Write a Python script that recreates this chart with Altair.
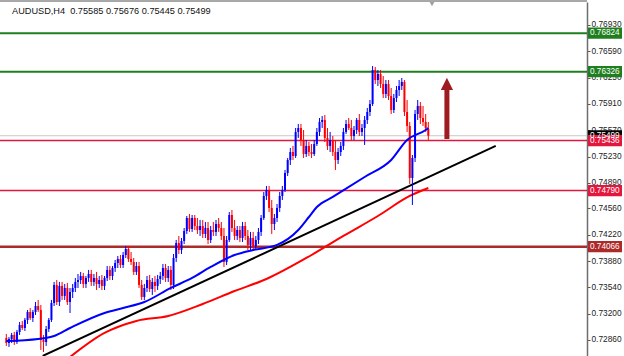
import altair as alt
import pandas as pd

# prices in 1e-5 units (pipettes)
opens = [72886, 72821, 72873, 72925, 72834, 72964, 73054, 73015, 73119, 73222,
         73144, 73222, 73299, 73248, 72860, 72834, 73002, 73119, 73338, 73571,
         73351, 73558, 73429, 73532, 73351, 73480, 73532, 73610, 73635, 73687,
         73584, 73661, 73713, 73610, 73661, 73584, 73635, 73558, 73661, 73765,
         73687, 73790, 73855, 73907, 73829, 73958, 74036, 73907, 73868, 73739,
         73816, 73571, 73416, 73532, 73635, 73519, 73610, 73558, 73648, 73687,
         73790, 73661, 73765, 73571, 73920, 74113, 74023, 74139, 74268, 74436,
         74294, 74436, 74333, 74281, 74333, 74230, 74307, 74152, 74281, 74256,
         74359, 74307, 74204, 73868, 74152, 74475, 74307, 74204, 74281, 74178,
         74333, 74204, 74088, 74178, 74075, 74152, 74256, 74436, 74721, 74798,
         74566, 74359, 74436, 74566, 74721, 74798, 75018, 75186, 75289, 75237,
         75548, 75599, 75444, 75263, 75367, 75289, 75263, 75392, 75548, 75677,
         75703, 75470, 75367, 75444, 75289, 75186, 75289, 75367, 75548, 75651,
         75599, 75496, 75573, 75703, 75548, 75599, 75703, 75806, 75909, 76349,
         76219, 76297, 76168, 76039, 76168, 76013, 75832, 75987, 76090, 76142,
         76194, 75806, 75625, 74953, 75212, 75780, 75884, 75728, 75677, 75585]
highs = [72938, 72899, 72951, 72964, 72989, 73093, 73106, 73144, 73248, 73274,
         73248, 73351, 73377, 73312, 72925, 73041, 73144, 73377, 73610, 73635,
         73610, 73610, 73584, 73597, 73532, 73584, 73661, 73713, 73739, 73726,
         73687, 73765, 73765, 73713, 73739, 73687, 73700, 73687, 73816, 73816,
         73816, 73894, 73945, 73958, 73997, 74075, 74075, 73997, 73920, 73868,
         73868, 73635, 73584, 73687, 73700, 73661, 73687, 73700, 73739, 73842,
         73842, 73816, 73816, 73971, 74152, 74204, 74178, 74307, 74462, 74488,
         74475, 74475, 74436, 74411, 74411, 74385, 74385, 74333, 74385, 74411,
         74436, 74385, 74307, 74204, 74514, 74540, 74411, 74333, 74333, 74385,
         74385, 74281, 74256, 74256, 74204, 74307, 74475, 74772, 74850, 74850,
         74669, 74488, 74617, 74772, 74850, 75057, 75212, 75341, 75367, 75599,
         75651, 75651, 75573, 75444, 75418, 75392, 75444, 75599, 75728, 75754,
         75767, 75599, 75548, 75496, 75444, 75341, 75418, 75599, 75703, 75728,
         75703, 75625, 75728, 75780, 75651, 75754, 75858, 75961, 76400, 76387,
         76349, 76349, 76271, 76219, 76219, 76116, 76039, 76142, 76219, 76245,
         76219, 75961, 75677, 75250, 75832, 75961, 75935, 75884, 75780, 75676]
lows = [72783, 72770, 72821, 72796, 72809, 72925, 72989, 72976, 73067, 73119,
        73093, 73183, 73222, 72731, 72705, 72783, 72964, 73093, 73299, 73312,
        73299, 73377, 73377, 73312, 73209, 73403, 73480, 73532, 73584, 73532,
        73532, 73610, 73558, 73558, 73506, 73532, 73506, 73506, 73622, 73635,
        73635, 73739, 73790, 73790, 73790, 73920, 73868, 73829, 73700, 73700,
        73532, 73377, 73377, 73480, 73480, 73442, 73480, 73506, 73584, 73635,
        73610, 73610, 73506, 73519, 73868, 73971, 73971, 74100, 74230, 74256,
        74256, 74281, 74230, 74204, 74178, 74178, 74100, 74113, 74204, 74204,
        74256, 74152, 73803, 73829, 74126, 74256, 74152, 74152, 74126, 74126,
        74152, 74023, 74023, 74023, 74023, 74100, 74204, 74411, 74669, 74514,
        74230, 74281, 74385, 74514, 74669, 74772, 74979, 75121, 75186, 75212,
        75470, 75367, 75212, 75225, 75237, 75212, 75237, 75367, 75496, 75599,
        75418, 75315, 75289, 75237, 75057, 75134, 75237, 75315, 75522, 75573,
        75444, 75444, 75522, 75496, 75496, 75380, 75651, 75754, 75884, 76168,
        76142, 76116, 75987, 75987, 75961, 75780, 75793, 75935, 76013, 76090,
        75754, 75548, 74876, 74604, 75160, 75703, 75651, 75625, 75548, 75445]
closes = [72821, 72873, 72925, 72834, 72964, 73054, 73015, 73119, 73222, 73144,
          73222, 73299, 73248, 72860, 72834, 73002, 73119, 73338, 73571, 73351,
          73558, 73429, 73532, 73351, 73480, 73532, 73610, 73635, 73687, 73584,
          73661, 73713, 73610, 73661, 73584, 73635, 73558, 73661, 73765, 73687,
          73790, 73855, 73907, 73829, 73958, 74036, 73907, 73868, 73739, 73816,
          73571, 73416, 73532, 73635, 73519, 73610, 73558, 73648, 73687, 73790,
          73661, 73765, 73571, 73920, 74113, 74023, 74139, 74268, 74436, 74294,
          74436, 74333, 74281, 74333, 74230, 74307, 74152, 74281, 74256, 74359,
          74307, 74204, 73868, 74152, 74475, 74307, 74204, 74281, 74178, 74333,
          74204, 74088, 74178, 74075, 74152, 74256, 74436, 74721, 74798, 74566,
          74359, 74436, 74566, 74721, 74798, 75018, 75186, 75289, 75237, 75548,
          75599, 75444, 75263, 75367, 75289, 75263, 75392, 75548, 75677, 75703,
          75470, 75367, 75444, 75289, 75186, 75289, 75367, 75548, 75651, 75599,
          75496, 75573, 75703, 75548, 75599, 75703, 75806, 75909, 76349, 76219,
          76297, 76168, 76039, 76168, 76013, 75832, 75987, 76090, 76142, 76194,
          75806, 75625, 74953, 75212, 75780, 75884, 75728, 75677, 75599, 75499]

blue_ma_bar = [0, 12, 18, 24, 37, 44, 52, 62, 70, 77, 86, 93, 102, 110, 114, 117, 123, 135, 145, 151, 158, 159]
blue_ma_val = [72847, 72873, 72912, 73015, 73209, 73274, 73351, 73532, 73661, 73803, 73958,
               74023, 74088, 74281, 74449, 74579, 74708, 74966, 75186, 75444, 75573, 75599]
red_ma_bar = [24, 37, 49, 61, 74, 86, 98, 115, 127, 140, 152, 159]
red_ma_val = [72640, 72951, 73106, 73170, 73325, 73493, 73648, 73958, 74204, 74462, 74721, 74824]
trend_bar = [13.7, 184.4]
trend_val = [72654, 75367]

level_prices = [76824, 76326, 75436, 74790, 74066]
level_colors = ["#1f7f1f", "#1f7f1f", "#e3173e", "#e3173e", "#ad2a2a"]
level_widths = [2, 2, 1.5, 1.5, 2.5]
bid_price = 75499

label_prices = [76824, 76326, 75499, 75436, 74790, 74066]
label_colors = ["#1f7f1f", "#1f7f1f", "#000000", "#e3173e", "#e3173e", "#ad2a2a"]

tick_values = [76930, 76590, 76250, 75910, 75570, 75230, 74890, 74560,
               74220, 73880, 73540, 73200, 72860]

arrow_bar = 166
arrow_from = 75457
arrow_to = 76116
arrow_head = 76168

title_text = "AUDUSD,H4\u00a0\u00a00.75585 0.75676 0.75445 0.75499"

S = 1e5
FONT = "Liberation Sans"

candles = pd.DataFrame({
    "i": list(range(len(closes))),
    "o": [v / S for v in opens],
    "h": [v / S for v in highs],
    "l": [v / S for v in lows],
    "c": [v / S for v in closes],
})
candles["dir"] = ["up" if c >= o else "down" for o, c in zip(opens, closes)]

xs = alt.Scale(domain=[-0.5, 216.9], nice=False, zero=False)
ys = alt.Scale(domain=[0.72653, 0.77227], nice=False, zero=False)
yax = alt.Axis(
    orient="right", values=[v / S for v in tick_values], format=".5f",
    labelFont=FONT, labelFontSize=8.3, labelColor="#222222", labelPadding=1,
    tickSize=3, tickColor="#555555", domainColor="#6e6e6e", domainWidth=1.5,
    grid=False, title=None, labelBound=False, labelOverlap=False)
dir_color = alt.Color("dir:N", scale=alt.Scale(domain=["up", "down"], range=["#0000ff", "#ff0000"]), legend=None)

levels = pd.DataFrame({"p": [v / S for v in level_prices], "col": level_colors, "w": level_widths})
bid = pd.DataFrame({"p": [bid_price / S]})
labels = pd.DataFrame({
    "p": [v / S for v in label_prices],
    "col": label_colors,
    "t": [f"{v / S:.5f}" for v in label_prices],
})
blue_ma = pd.DataFrame({"i": blue_ma_bar, "v": [v / S for v in blue_ma_val]})
red_ma = pd.DataFrame({"i": red_ma_bar, "v": [v / S for v in red_ma_val]})
trend = pd.DataFrame({"i": trend_bar, "v": [v / S for v in trend_val]})
arrow = pd.DataFrame({"i": [arrow_bar], "a": [arrow_from / S], "b": [arrow_to / S], "hd": [arrow_head / S]})


def Y(field):
    return alt.Y(field, scale=ys, axis=yax)


def X(field):
    return alt.X(field, scale=xs, axis=None)


axis_layer = alt.Chart(bid).mark_rule(color="#c8c8c8", strokeWidth=1).encode(y=Y("p:Q"))

level_layer = alt.Chart(levels).mark_rule().encode(
    y=Y("p:Q"),
    color=alt.Color("col:N", scale=None),
    strokeWidth=alt.StrokeWidth("w:Q", scale=None),
)

red_ma_layer = alt.Chart(red_ma).mark_line(color="#ff0000", strokeWidth=2, clip=True,
                                           interpolate="monotone").encode(x=X("i:Q"), y=Y("v:Q"))

trend_layer = alt.Chart(trend).mark_line(color="#000000", strokeWidth=2, clip=True).encode(
    x=X("i:Q"), y=Y("v:Q"))

wicks = alt.Chart(candles).mark_rule(strokeWidth=1, clip=True).encode(
    x=X("i:Q"), y=Y("l:Q"), y2="h:Q", color=dir_color)

bodies = alt.Chart(candles).mark_bar(size=2, clip=True).encode(
    x=X("i:Q"), y=Y("o:Q"), y2="c:Q", color=dir_color)

blue_ma_layer = alt.Chart(blue_ma).mark_line(color="#0000ff", strokeWidth=2, clip=True,
                                             interpolate="monotone").encode(x=X("i:Q"), y=Y("v:Q"))

arrow_shaft = alt.Chart(arrow).mark_rule(color="#9c1c22", strokeWidth=5).encode(
    x=X("i:Q"), y=Y("a:Q"), y2="b:Q")
arrow_tip = alt.Chart(arrow).mark_point(shape="M0,-1L1,1L-1,1Z", size=150, filled=True,
                                         opacity=1, color="#9c1c22").encode(
    x=X("i:Q"), y=Y("hd:Q"))

label_boxes = alt.Chart(labels).mark_point(shape="M-1,-0.33L1,-0.33L1,0.33L-1,0.33Z", size=1156,
                                           filled=True, opacity=1).encode(
    x=alt.value(605), y=Y("p:Q"), color=alt.Color("col:N", scale=None))
label_texts = alt.Chart(labels).mark_text(align="left", baseline="middle", font=FONT,
                                          fontSize=8.2, color="#ffffff").encode(
    x=alt.value(590), y=Y("p:Q"), text="t:N")

top_border = alt.Chart(bid).mark_rule(color="#a8a8a8", strokeWidth=2).encode(
    x=alt.value(0), x2=alt.value(587), y=alt.value(-1))
shift_marker = alt.Chart(bid).mark_point(shape="triangle-down", size=25, filled=True,
                                         opacity=1, color="#a0a0a0").encode(
    x=alt.value(432), y=alt.value(2))
title_layer = alt.Chart(pd.DataFrame({"t": [title_text]})).mark_text(
    align="left", baseline="middle", font=FONT, fontSize=9.2, color="#111111").encode(
    x=alt.value(12), y=alt.value(9), text="t:N")

chart = alt.layer(
    axis_layer, level_layer, red_ma_layer, trend_layer, wicks, bodies, blue_ma_layer,
    arrow_shaft, arrow_tip, label_boxes, label_texts, top_border, shift_marker, title_layer
).properties(
    width=587, height=354,
    padding={"left": 0, "top": 2, "right": 37, "bottom": 0},
    autosize=alt.AutoSizeParams(type="none"),
    background="#ffffff",
).configure_view(stroke=None)

chart.save("out.html", embed_options={"renderer": "svg", "actions": False})
